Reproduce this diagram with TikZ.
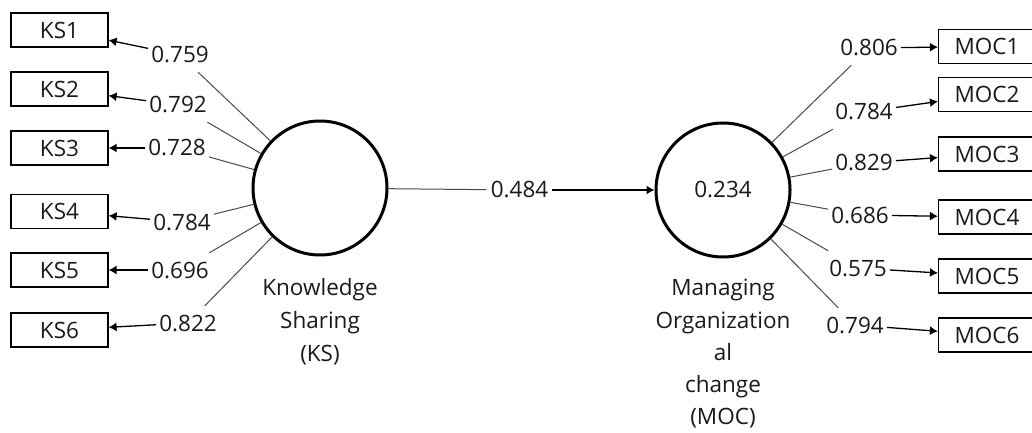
\documentclass[tikz,border=0pt]{standalone}
\usepackage{fontspec}
\setmainfont{Open Sans}
\usetikzlibrary{arrows.meta}
\definecolor{txt}{HTML}{1A1A1A}
\definecolor{ind}{HTML}{4A4A4A}
\begin{document}
\begin{tikzpicture}[x=1pt,y=-1pt,
  font=\fontsize{22.5}{33}\selectfont, text=txt,
  latent/.style={circle, draw=black, line width=3pt, minimum size=134pt, inner sep=0pt},
  manifest/.style={rectangle, draw=black, line width=1.2pt, minimum width=97pt, minimum height=34pt, inner sep=0pt},
  lbl/.style={inner xsep=3pt, inner ysep=0pt, minimum height=34pt},
  load/.style={draw=ind, line width=1pt},
  arr/.style={draw=black, line width=1.3pt, -{Latex[length=8pt,width=9pt]}},
  capt/.style={align=center, inner sep=0pt, anchor=north}
]
\clip (0,0) rectangle (1032,433);
\fill[white] (0,0) rectangle (1032,433);

% latent variables
\node[latent] (ks) at (320,188) {};
\node[latent] (moc) at (723,190) {0.234};
\node[capt] (kscap) at (320,278) {Knowledge\\Sharing\\(KS)};
\node[capt, font=\fontsize{22.5}{32.3}\selectfont] (moccap) at (723,279) {Managing\\Organization\\al\\change\\(MOC)};

% KS indicators
\node[manifest] (ks1) at (59.5,30) {KS1};
\node[manifest] (ks2) at (59.5,89) {KS2};
\node[manifest] (ks3) at (59.5,148) {KS3};
\node[manifest] (ks4) at (59.5,211.5) {KS4};
\node[manifest] (ks5) at (59.5,270) {KS5};
\node[manifest] (ks6) at (59.5,330) {KS6};

\node[lbl] (l1) at (180,55) {0.759};
\node[lbl] (l2) at (178,105) {0.792};
\node[lbl] (l3) at (177,148) {0.728};
\node[lbl] (l4) at (182,222) {0.784};
\node[lbl] (l5) at (180,270) {0.696};
\node[lbl] (l6) at (188,323) {0.822};

\foreach \i in {1,...,6}{
  \draw[load] (ks) -- (l\i);
  \draw[arr] (l\i) -- (ks\i);
}

% MOC indicators
\node[manifest] (moc1) at (987,46.5) {MOC1};
\node[manifest] (moc2) at (987,94.5) {MOC2};
\node[manifest] (moc3) at (987,154) {MOC3};
\node[manifest] (moc4) at (987,217) {MOC4};
\node[manifest] (moc5) at (987,276) {MOC5};
\node[manifest] (moc6) at (987,335) {MOC6};

\node[lbl] (r1) at (869,48) {0.806};
\node[lbl] (r2) at (864,112) {0.784};
\node[lbl] (r3) at (864,163) {0.829};
\node[lbl] (r4) at (860,215) {0.686};
\node[lbl] (r5) at (858,268) {0.575};
\node[lbl] (r6) at (855,325) {0.794};

\foreach \i in {1,...,6}{
  \draw[load] (moc) -- (r\i);
  \draw[arr] (r\i) -- (moc\i);
}

% structural path
\node[lbl, inner xsep=4pt] (path) at (519.5,190) {0.484};
\draw[load] (ks) -- (path);
\draw[arr] (path) -- (moc);
\end{tikzpicture}
\end{document}
